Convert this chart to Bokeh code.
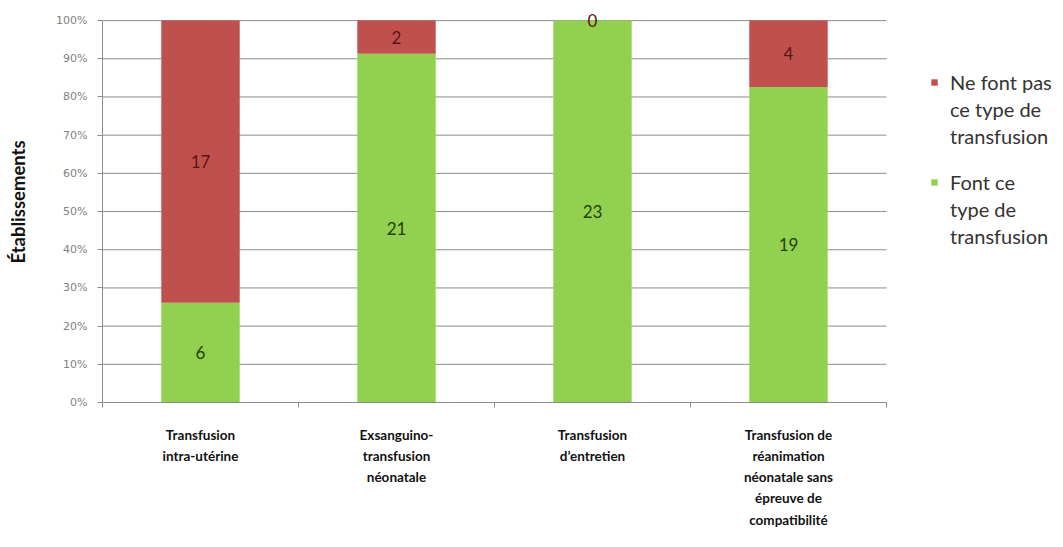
from bokeh.plotting import figure
from bokeh.models import ColumnDataSource, FixedTicker, NumeralTickFormatter, LabelSet, Legend, LegendItem, Range1d
from bokeh.core.properties import value
from bokeh.embed import file_html
from bokeh.resources import INLINE

# ---- data ----
categories = [
    "Transfusion\nintra-utérine",
    "Exsanguino-\ntransfusion\nnéonatale",
    "Transfusion\nd’entretien",
    "Transfusion de\nréanimation\nnéonatale sans\népreuve de\ncompatibilité",
]
font_ce = [6, 21, 23, 19]          # green series
ne_font_pas = [17, 2, 0, 4]        # red series
series_labels = ["Ne font pas\nce type de\ntransfusion", "Font ce\ntype de\ntransfusion"]
y_ticks = [0.0, 0.1, 0.2, 0.3, 0.4, 0.5, 0.6, 0.7, 0.8, 0.9, 1.0]
y_title = "Établissements"

GREEN = "#92D050"
RED = "#C0504D"
GRID = "#8c8c8c"

W, H = 1063, 547
LEFT, BOTTOM, TOP = 102, 145, 1
PLOT_W = 784          # width of the bar area; the rest of the frame holds the legend

n = len(categories)
xs = [i + 0.5 for i in range(n)]
totals = [g + r for g, r in zip(font_ce, ne_font_pas)]
g_pct = [g / t for g, t in zip(font_ce, totals)]
r_pct = [r / t for r, t in zip(ne_font_pas, totals)]

src = ColumnDataSource(dict(
    x=xs,
    g=g_pct,
    r=r_pct,
    g_mid=[gp / 2 for gp in g_pct],
    r_mid=[gp + rp / 2 for gp, rp in zip(g_pct, r_pct)],
    g_txt=[str(v) for v in font_ce],
    r_txt=[str(v) for v in ne_font_pas],
))

frame_w = W - LEFT
p = figure(width=W, height=H, output_backend="svg", toolbar_location=None,
           x_range=Range1d(0, n * frame_w / PLOT_W), y_range=Range1d(0, 1.05),
           min_border_left=LEFT, min_border_right=0, min_border_top=TOP, min_border_bottom=BOTTOM)
p.outline_line_color = None
p.background_fill_color = "white"
p.border_fill_color = "white"

# horizontal gridlines limited to the bar area
p.xgrid.grid_line_color = None
p.ygrid.grid_line_color = None
p.segment(x0=[0] * len(y_ticks), x1=[n] * len(y_ticks), y0=y_ticks, y1=y_ticks,
          line_color=GRID, line_width=1, level="underlay")

rs = p.vbar_stack(["g", "r"], x="x", width=0.4, source=src, color=[GREEN, RED], line_color=None)
# invisible renderer used for the continuation lines of the legend texts
blank = p.scatter(x=[], y=[], size=1, fill_alpha=0, line_alpha=0)

# data labels
p.add_layout(LabelSet(x="x", y="g_mid", text="g_txt", source=src, text_align="center",
                      text_baseline="middle", text_font=value("Lato"), text_font_size="17px",
                      text_color="#24400f"))
p.add_layout(LabelSet(x="x", y="r_mid", text="r_txt", source=src, text_align="center",
                      text_baseline="middle", text_font=value("Lato"), text_font_size="17px",
                      text_color="#5a1616"))

# y axis
ya = p.yaxis[0]
ya.ticker = FixedTicker(ticks=y_ticks)
ya.bounds = (0, 1)
ya.formatter = NumeralTickFormatter(format="0%")
ya.axis_line_color = GRID
ya.major_tick_line_color = GRID
ya.major_tick_out = 5
ya.major_tick_in = 0
ya.minor_tick_line_color = None
ya.major_label_text_font = "DejaVu Sans"
ya.major_label_text_font_size = "11px"
ya.major_label_text_color = "#808080"
ya.major_label_standoff = 10
ya.axis_label = y_title
ya.axis_label_text_font = "Lato"
ya.axis_label_text_font_style = "bold"
ya.axis_label_text_font_size = "18.5px"
ya.axis_label_text_color = "#111111"
ya.axis_label_standoff = 24

# x axis: labels at bar centres, ticks at category boundaries
xa = p.xaxis[0]
xa.ticker = FixedTicker(ticks=xs, minor_ticks=list(range(n + 1)))
xa.bounds = (0, n)
xa.major_label_overrides = {x: c for x, c in zip(xs, categories)}
xa.axis_line_color = GRID
xa.major_tick_line_color = None
xa.major_tick_out = 0
xa.minor_tick_line_color = GRID
xa.minor_tick_out = 5
xa.minor_tick_in = 0
xa.major_label_text_font = "Lato"
xa.major_label_text_font_style = "bold"
xa.major_label_text_font_size = "13.5px"
xa.major_label_text_color = "#111111"
xa.major_label_text_line_height = 1.33
xa.major_label_standoff = 19


def make_legend(label, renderer, loc):
    lines = label.split("\n")
    items = [LegendItem(label=lines[0], renderers=[renderer])]
    items += [LegendItem(label=t, renderers=[blank]) for t in lines[1:]]
    lg = Legend(items=items, location=loc, orientation="vertical")
    lg.glyph_width = 8
    lg.glyph_height = 8
    lg.label_standoff = 12
    lg.spacing = 3
    lg.padding = 0
    lg.margin = 0
    lg.label_height = 20
    lg.border_line_color = None
    lg.background_fill_alpha = 0
    lg.label_text_font = "Lato"
    lg.label_text_font_size = "20px"
    lg.label_text_color = "#333333"
    lg.label_text_baseline = "middle"
    return lg


p.add_layout(make_legend(series_labels[0], rs[1], (828, 254)))
p.add_layout(make_legend(series_labels[1], rs[0], (828, 154)))

open("out.html", "w").write(file_html(p, INLINE))
